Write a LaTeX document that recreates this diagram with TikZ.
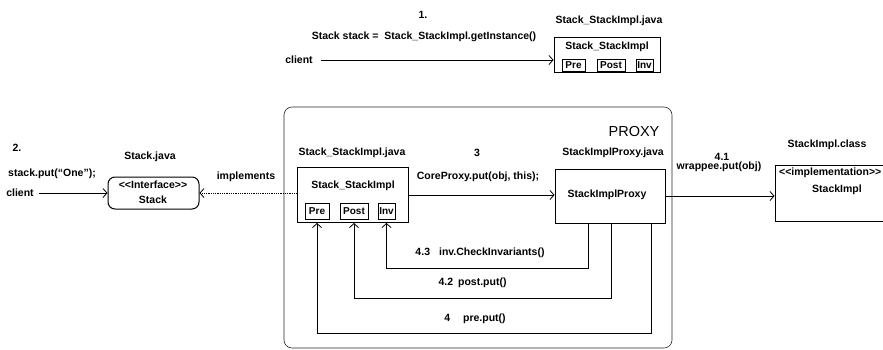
\documentclass[tikz,border=0pt]{standalone}
\usepackage{fontspec}
\setmainfont{Liberation Sans}
\usetikzlibrary{arrows.meta}
\begin{document}
\begin{tikzpicture}[x=1pt,y=-1pt,
  lbl/.style={inner sep=0pt, font=\bfseries\fontsize{10.5}{12}\selectfont},
  boxn/.style={draw, line width=1pt, inner sep=0pt},
  small/.style={draw, line width=0.9pt, inner sep=0pt, font=\bfseries\fontsize{10}{11}\selectfont},
  arr/.style={line width=0.9pt, -{Straight Barb[length=4pt,width=9pt,line width=0.8pt]}},
  ]
\clip (0,0) rectangle (883,349);
\useasboundingbox (0,0) rectangle (883,349);
\fill[white] (0,0) rectangle (883,349);

% ---- step 1 ----
\node[lbl] (n1) at (423,15) {1.};
\node[lbl] (getinst) at (424,37) {Stack stack =\ \ Stack\_StackImpl.getInstance()};
\node[lbl] (client1) at (299,60) {client};
\node[lbl] (tbl) at (609,21) {Stack\_StackImpl.java};
\node[boxn, minimum width=106, minimum height=35] (tb) at (607,54.5) {};
\node[lbl] (tbt) at (607,47) {Stack\_StackImpl};
\node[small, minimum width=23, minimum height=12] (tpre) at (573.5,65.5) {Pre};
\node[small, minimum width=28, minimum height=12] (tpost) at (611,65.5) {Post};
\node[small, minimum width=17, minimum height=12] (tinv) at (644.5,65.5) {Inv};
\draw[arr, shorten <=8pt] (client1.east) -- (client1.east -| tb.west);

% ---- step 2 ----
\node[lbl] (n2) at (17,148) {2.};
\node[lbl] (put) at (52,174) {stack.put(“One”);};
\node[lbl] (client2) at (20,193) {client};
\node[lbl] (stackl) at (150,157) {Stack.java};
\node[boxn, rounded corners=7pt, minimum width=91, minimum height=32] (stack) at (153.5,193) {};
\node[lbl] (stackt1) at (153,185) {<{}<Interface>{}>};
\node[lbl] (stackt2) at (153,200) {Stack};
\draw[arr, shorten <=5pt] (client2.east) -- (client2.east -| stack.west);
\node[lbl] (impl) at (246,177) {implements};

% ---- proxy container ----
\node[draw, line width=0.6pt, draw=black!85, rounded corners=8pt, inner sep=0pt,
      minimum width=388, minimum height=241] (proxybox) at (478,227.5) {};
\node[inner sep=0pt, font=\fontsize{14.5}{16}\selectfont] (proxyt) at (634,132) {PROXY};

\node[lbl] (impll) at (352,153) {Stack\_StackImpl.java};
\node[boxn, minimum width=111, minimum height=55] (implb) at (352.5,195) {};
\node[lbl] (implt) at (353,186) {Stack\_StackImpl};
\node[small, minimum width=24, minimum height=16] (pre) at (317,211) {Pre};
\node[small, minimum width=28, minimum height=16] (post) at (354,211) {Post};
\node[small, minimum width=17, minimum height=16] (inv) at (386.5,211) {Inv};

\node[lbl] (n3) at (477,153) {3};
\node[lbl] (core) at (478,177) {CoreProxy.put(obj, this);};
\node[lbl] (proxyl) at (613,153) {StackImplProxy.java};
\node[boxn, minimum width=110, minimum height=54] (proxy) at (610,196) {};
\node[lbl] (proxyn) at (607,195) {StackImplProxy};

\draw[arr] (implb.east) -- (implb.east -| proxy.west);
\draw[line width=0.8pt, densely dotted, -{Straight Barb[length=4pt,width=9pt,line width=0.8pt]}]
  ([yshift=2pt]implb.west) -- ([yshift=2pt]implb.west -| stack.east);

% feedback calls
\draw[arr] ([xshift=-22pt]proxy.south) -- ++(0,45) -| (inv.south |- implb.south);
\draw[arr] ([xshift=1pt]proxy.south) -- ++(0,75) -| (post.south |- implb.south);
\draw[arr] ([xshift=41pt]proxy.south) -- ++(0,110) -| (pre.south |- implb.south);
\node[lbl] (l43) at (480,253) {4.3\hspace{9pt}inv.CheckInvariants()};
\node[lbl] (l42) at (472.5,283) {4.2\hspace{5pt}post.put()};
\node[lbl] (l4) at (475,319) {4\hspace{13pt}pre.put()};

% ---- step 4.1 ----
\node[lbl] (n41) at (722,157) {4.1};
\node[lbl] (wrap) at (719,167) {wrappee.put(obj)};
\node[lbl] (simpll) at (827,145) {StackImpl.class};
\node[boxn, minimum width=115, minimum height=56] (simpl) at (832.5,193) {};
\node[lbl, anchor=west] (simplt1) at (779,173) {<{}<implementation>{}>};
\node[lbl] (simplt2) at (837,190) {StackImpl};
\draw[arr] (proxy.east) -- (proxy.east -| simpl.west);
\end{tikzpicture}
\end{document}
